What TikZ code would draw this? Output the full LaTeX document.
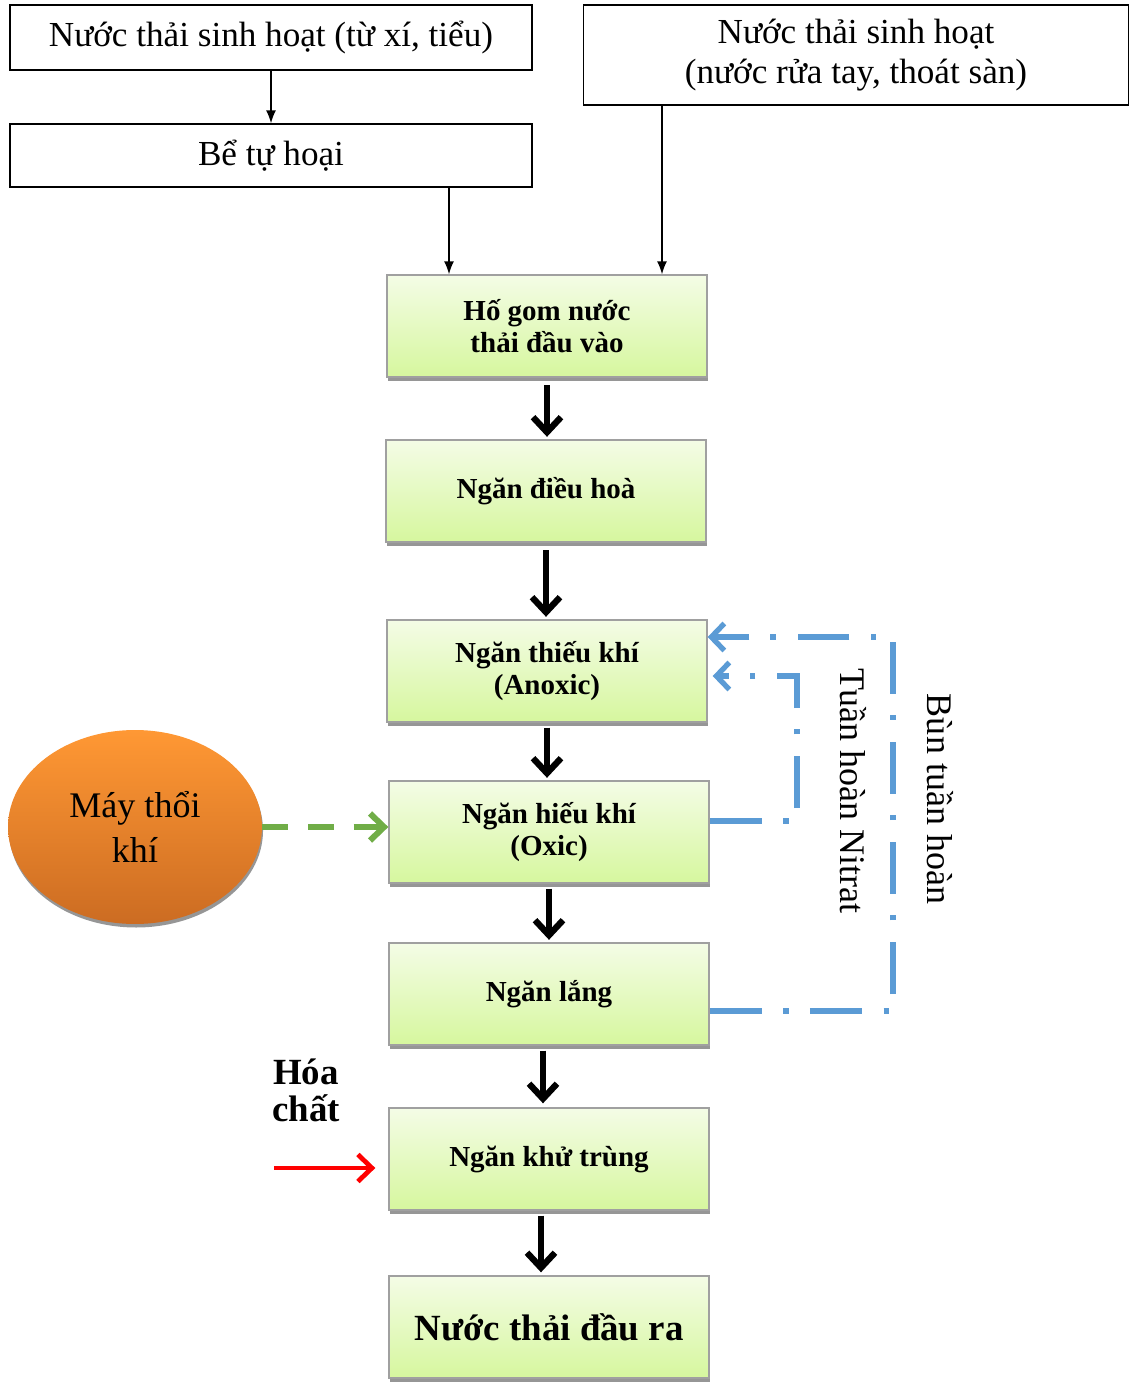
\documentclass[tikz,border=0pt]{standalone}
\usepackage{fontspec}
\setmainfont{Liberation Serif}
\usetikzlibrary{shapes.geometric, arrows.meta, shadows, calc}
\definecolor{boxtop}{RGB}{244,252,230}
\definecolor{boxbot}{RGB}{214,247,158}
\definecolor{boxgray}{RGB}{160,160,160}
\definecolor{shadegray}{RGB}{150,150,150}
\definecolor{blowtop}{RGB}{255,152,52}
\definecolor{blowbot}{RGB}{204,108,34}
\definecolor{airgreen}{RGB}{112,173,71}
\definecolor{recblue}{RGB}{91,155,213}
\definecolor{chemred}{RGB}{255,0,0}
\tikzset{
  stage/.style={rectangle, minimum width=6.4cm, minimum height=2.04cm, align=center, draw=boxgray, top color=boxtop, bottom color=boxbot, font=\fontsize{16.5}{18.5}\selectfont\bfseries, line width=0.8pt, drop shadow={shadow xshift=0.6pt, shadow yshift=-2.4pt, fill=shadegray, opacity=1}},
  source/.style={rectangle, draw=black, line width=0.8pt, align=center, font=\fontsize{20}{23}\selectfont},
  blower/.style={ellipse, minimum width=5.08cm, minimum height=3.88cm, align=center, top color=blowtop, bottom color=blowbot, font=\fontsize{20.5}{25.5}\selectfont, drop shadow={shadow xshift=0.6pt, shadow yshift=-2pt, fill=shadegray, opacity=1}},
  flow/.style={-{Straight Barb[length=3mm,width=5.6mm]}, line width=3.6pt},
  feed/.style={-{Latex[length=2.6mm,width=2mm]}, line width=0.8pt},
  air/.style={-{Straight Barb[length=2.8mm,width=5.4mm]}, line width=3.4pt, draw=airgreen, dash pattern=on 14.7pt off 11.3pt},
  chem/.style={-{Straight Barb[length=2.8mm,width=5.4mm]}, line width=2.7pt, draw=chemred},
  recyc/.style={-{Straight Barb[length=2.6mm,width=5.4mm]}, line width=3pt, draw=recblue, dash pattern=on 29.5pt off 12.5pt on 3pt off 12pt},
  sidelabel/.style={rotate=-90, font=\fontsize{20.5}{23}\selectfont},
}
\begin{document}
\begin{tikzpicture}[x=0.02cm, y=-0.02cm]
\useasboundingbox (0,0) rectangle (1129,1382);
% sources
\node (src1) [source, minimum width=10.44cm, minimum height=1.3cm] at (271,37.5) {Nước thải sinh hoạt (từ xí, tiểu)};
\node (septic) [source, minimum width=10.44cm, minimum height=1.26cm] at (271,155.5) {Bể tự hoại};
\node (src2) [source, minimum width=10.9cm, minimum height=2cm] at (856,55) {Nước thải sinh hoạt\\(nước rửa tay, thoát sàn)};
% treatment stages
\node (hogom)    [stage] at (547,326)  {Hố gom nước\\thải đầu vào};
\node (dieuhoa)  [stage] at (546,491)  {Ngăn điều hoà};
\node (thieukhi) [stage] at (547,671)  {Ngăn thiếu khí\\(Anoxic)};
\node (hieukhi)  [stage] at (549,832)  {Ngăn hiếu khí\\(Oxic)};
\node (lang)     [stage] at (549,994)  {Ngăn lắng};
\node (khutrung) [stage] at (549,1159) {Ngăn khử trùng};
\node (daura)    [stage, font=\fontsize{21}{24}\selectfont\bfseries] at (549,1327) {Nước thải đầu ra};
\node (blow) [blower] at (135,827) {Máy thổi\\khí};
\node (hoachat) [align=center, font=\fontsize{21}{21}\selectfont\bfseries] at (306,1090) {Hóa\\chất};
\node (lblnitrat) [sidelabel] at (853,791) {Tuần hoàn Nitrat};
\node (lblbun) [sidelabel] at (940,799) {Bùn tuần hoàn};
\coordinate (inA) at (449,0);
\coordinate (inB) at (662,0);
\coordinate (bunx) at (893,800);
\coordinate (nitx) at (797,750);
\coordinate (chemA) at (274,1168);
% inflows
\draw[feed] (src1) -- (septic);
\draw[feed] (septic.south -| inA) -- (hogom.north -| inA);
\draw[feed] (src2.south -| inB) -- (hogom.north -| inB);
% main line
\draw[flow] ([yshift=-0.15cm]hogom.south) -- ([yshift=0.05cm]hogom.south |- dieuhoa.north);
\draw[flow] ([yshift=-0.15cm]dieuhoa.south) -- ([yshift=0.05cm]dieuhoa.south |- thieukhi.north);
\draw[flow] ([yshift=-0.1cm]thieukhi.south) -- ([yshift=0.05cm]thieukhi.south |- hieukhi.north);
\draw[flow] ([yshift=-0.1cm]hieukhi.south) -- ([yshift=0.05cm]hieukhi.south |- lang.north);
\draw[flow] ([xshift=-0.12cm,yshift=-0.1cm]lang.south) -- ([xshift=-0.12cm,yshift=0.08cm]lang.south |- khutrung.north);
\draw[flow] ([xshift=-0.16cm,yshift=-0.1cm]khutrung.south) -- ([xshift=-0.16cm,yshift=0.06cm]khutrung.south |- daura.north);
% air, chemicals
\draw[air] (blow.east) -- (blow.east -| hieukhi.west);
\draw[chem] (chemA) -- ([xshift=-0.26cm]khutrung.west |- chemA);
% recirculation
\draw[recyc] ([yshift=-0.34cm]lang.east) -| (bunx) |- ([yshift=0.68cm]thieukhi.east);
\draw[recyc] ([yshift=0.22cm]hieukhi.east) -| (nitx) |- ([xshift=0.1cm,yshift=-0.1cm]thieukhi.east);
\end{tikzpicture}
\end{document}
